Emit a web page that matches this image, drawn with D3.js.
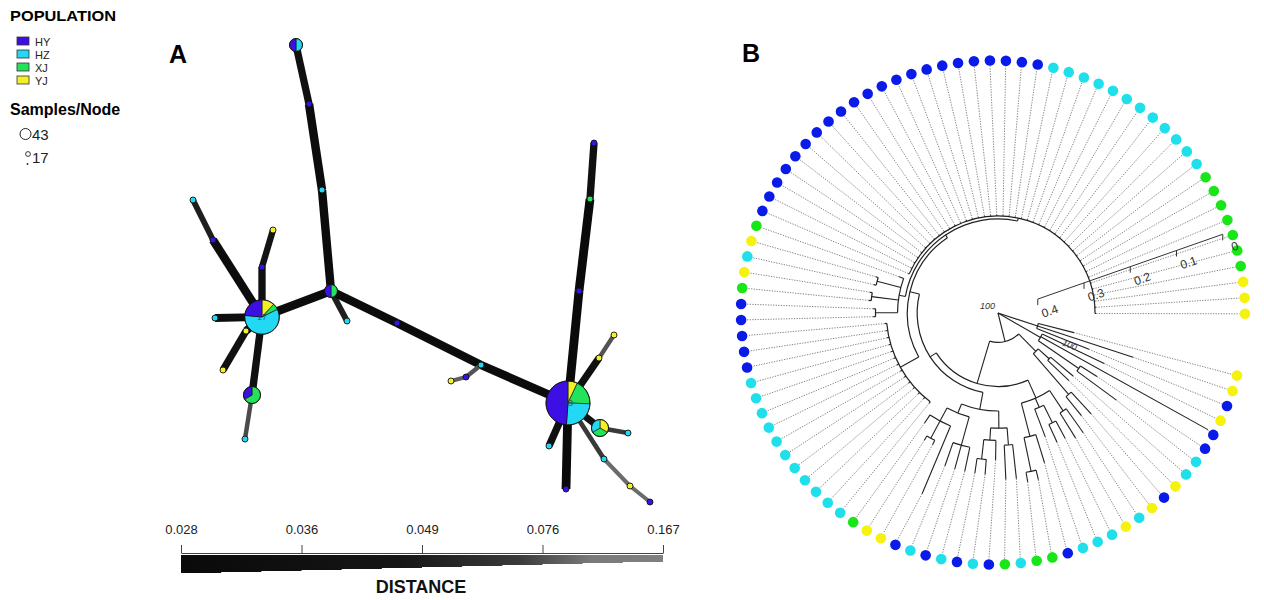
<!DOCTYPE html>
<html>
<head>
<meta charset="utf-8">
<script src="https://cdn.jsdelivr.net/npm/d3@7"></script>
<style>
  body { margin: 0; background: #fff; }
  svg { display: block; font-family: "Liberation Sans", Arial, sans-serif; }
</style>
</head>
<body>
<div id="chart-area"></div>
<script>
// Populations (shared by both panels)
var populations = ["HY", "HZ", "XJ", "YJ"];
var popColorsA = ["#3c10e4", "#22d8f2", "#22e35a", "#f3f028"];
var popColorsB = ["#0a1ae8", "#1fe0ea", "#18e618", "#f5f20e"];

// ---- Panel A: minimum spanning network ----
// node layout (network units) and samples per population [HY, HZ, XJ, YJ]
var nodeX = [136, 149, 162, 171, 187, 102, 33, 53, 113, 102, 55, 86, 63, 92, 85, 237,
             321, 306, 291, 408, 419, 430, 434, 439, 454, 389, 406, 440, 468, 444, 470, 490];
var nodeY = [25, 84, 170, 271, 301, 297, 180, 220, 210, 247, 298, 311, 350, 375, 419, 303,
             345, 357, 361, 383, 271, 179, 123, 338, 315, 426, 469, 408, 413, 439, 466, 482];
var nodeCounts = [
  [1,1,0,0], [1,0,0,0], [0,1,0,0], [1,0,1,0], [0,1,0,0], [4,10,1,2], [0,1,0,0], [1,0,0,0],
  [0,0,0,1], [1,0,0,0], [0,1,0,0], [0,0,0,1], [0,0,0,1], [1,0,2,0], [0,1,0,0], [1,0,0,0],
  [0,1,0,0], [1,0,0,0], [0,0,0,1], [21,11,8,3], [1,0,0,0], [0,0,1,0], [1,0,0,0], [0,0,0,1],
  [0,0,0,1], [0,1,0,0], [1,0,0,0], [0,1,1,1], [0,1,0,0], [0,1,0,0], [0,0,0,1], [1,0,0,0]
];
var edgeFrom = [0, 1, 2, 3, 3, 3, 15, 16, 16, 17, 5, 7, 5, 9, 5, 5, 11, 5, 13,
                19, 20, 21, 19, 23, 19, 19, 19, 27, 19, 29, 30];
var edgeTo   = [1, 2, 3, 4, 5, 15, 16, 19, 17, 18, 7, 6, 9, 8, 10, 11, 12, 13, 14,
                20, 21, 22, 23, 24, 25, 26, 27, 28, 29, 30, 31];
var edgeDist = [0.036, 0.03, 0.03, 0.05, 0.03, 0.03, 0.03, 0.03, 0.08, 0.09, 0.03, 0.05, 0.036, 0.045, 0.033, 0.033, 0.036, 0.036, 0.075,
                0.028, 0.028, 0.036, 0.036, 0.08, 0.036, 0.028, 0.04, 0.07, 0.07, 0.1, 0.1];
var distTicks = [0.028, 0.036, 0.049, 0.076, 0.167];
var distTickLabels = ["0.028", "0.036", "0.049", "0.076", "0.167"];
var sizeLegend = ["43", "17"];

// ---- Panel B: circular tree ----
// tip population codes (index into populations), clockwise from the gap on the right
var tipPop = [3,3,0,3,0,0,1,1,3,0,3,1,3,1,1,1,0,2,2,1,2,0,1,0,1,0,1,0,3,3,2,
              1,1,1,1,1,1,1,1,1,1,1,
              0,0,0,
              0,0,2,3,1,3,2,
              0,0,0,0,0,0,0,0,0,0,0,0,0,0,0,0,0,0,0,0,0,0,
              1,1,1,1,1,1,1,1,1,1,1,1,
              2,2,2,2,2,2,2,
              3,3,3];
// depth where each tip's solid branch ends
var tipEnd = [0.16,0.29,0.2,0.24,0.49,0.24,0.3,0.2,0.2,0.28,0.27,0.3,0.3,0.29,0.29,0.27,
              0.32,0.35,0.35,0.34,0.34,0.3,0.33,0.33,0.33,0.33,0.33,0.4,0.3,0.3,0.27,
              0.232,0.232,0.232,0.232,0.232,0.232,0.232,0.232,0.232,0.232,0.232,0.232,0.232,0.232,
              0.255,0.255,0.265,0.265,0.26,0.26,0.215,
              0.2,0.2,0.2,0.2,0.2,0.2,0.2,0.2,0.2,0.2,0.2,0.2,0.2,0.2,0.2,0.2,0.2,0.2,0.2,0.2,0.2,0.2,
              0.2,0.2,0.2,0.2,0.2,0.2,0.2,0.2,0.2,0.2,0.2,0.2,0.2,0.2,0.2,0.2,0.2,0.2,0.2,0.2,0.2,0.2];
// tree: [node depth, ...children]; a plain number is a tip index
var treeData =
  [0,
    [0.085, 0, 1, 2],
    [0.1, 3, 4, [0.2, 5, 6]],
    [0.06,
      [0.11, [0.14, 7, 8], [0.22, 9, 10]],
      [0.15,
        [0.19, [0.24, 11, 12], [0.21, [0.25, 13, 14], 15], [0.26, 16, [0.33, 17, 18]]],
        [0.165,
          [0.2, [0.235, [0.27, 19, 20], [0.26, 21, [0.3, 22, 23]]],
                [0.22, [0.28, 24, 25, 26], [0.25, 27, [0.29, 28, 29], 30]]],
          [0.185,
            [0.228, 31, 32, 33, 34, 35, 36, 37, 38, 39, 40, 41, 42, 43, 44],
            [0.192,
              [0.205, [0.25, 45, 46], [0.26, 47, 48], [0.255, 49, 50], 51],
              [0.198, 52, 53, 54, 55, 56, 57, 58, 59, 60, 61, 62, 63, 64, 65, 66, 67, 68, 69, 70, 71,
                      72, 73, 74, 75, 76, 77, 78, 79, 80, 81, 82, 83, 84, 85, 86, 87, 88, 89, 90, 91,
                      92, 93, 94, 95]]]]]]];
var treeMaxDepth = 0.486;
var scaleTicks = [0, 0.1, 0.2, 0.3, 0.4];
var bootLabels = ["100", "100"];

var svg = d3.select("#chart-area")
    .append("svg")
    .attr("width", 1264)
    .attr("height", 600);
svg.append("rect").attr("width", 1264).attr("height", 600).attr("fill", "#fff");

// ================= Panel A =================
var gA = svg.append("g");
var xA = d3.scaleLinear().domain([0, 500]).range([160, 660]);
var yA = d3.scaleLinear().domain([0, 500]).range([20, 520]);
var distT = d3.scaleLinear().domain(distTicks).range([0, 0.25, 0.5, 0.75, 1]).clamp(true);
var edgeWidth = d3.scaleLinear().domain([0, 1]).range([8.8, 3]);
var edgeGray = d3.scaleLinear().domain([0, 0.45, 0.7, 0.85, 1])
    .range(["#0a0a0a", "#151515", "#3a3a3a", "#7a7a7a", "#808080"]);
var nodeR = d3.scaleLog().domain([1, 43]).range([3, 22]);

gA.selectAll("line.edge")
    .data(edgeFrom.map(function(f, i) { return {f: f, t: edgeTo[i], d: edgeDist[i]}; }))
    .enter().append("line")
    .attr("class", "edge")
    .attr("x1", d => xA(nodeX[d.f])).attr("y1", d => yA(nodeY[d.f]))
    .attr("x2", d => xA(nodeX[d.t])).attr("y2", d => yA(nodeY[d.t]))
    .attr("stroke", d => edgeGray(distT(d.d)))
    .attr("stroke-width", d => edgeWidth(distT(d.d)));

// pie slices go clockwise from the top in the order YJ, XJ, HZ, HY
var pieOrder = [3, 2, 1, 0];
var pie = d3.pie().sort(null).value(d => d.v);
var nodes = nodeCounts.map(function(c, i) {
  return {i: i, total: d3.sum(c), slices: pieOrder.map(p => ({p: p, v: c[p]}))};
});
var nodeG = gA.selectAll("g.node").data(nodes).enter().append("g")
    .attr("class", "node")
    .attr("transform", d => "translate(" + xA(nodeX[d.i]) + "," + yA(nodeY[d.i]) + ")");
nodeG.each(function(d) {
  var r = nodeR(d.total);
  var arc = d3.arc().innerRadius(0).outerRadius(r);
  var g = d3.select(this);
  g.selectAll("path").data(pie(d.slices).filter(s => s.data.v > 0)).enter().append("path")
      .attr("d", arc)
      .attr("fill", s => popColorsA[s.data.p])
      .attr("stroke", "#111")
      .attr("stroke-width", d.total > 1 ? 0.6 : 0);
  g.append("circle").attr("r", r).attr("fill", "none").attr("stroke", "#111").attr("stroke-width", 0.9);
  if (d.total > 10) {
    g.append("text").attr("text-anchor", "middle").attr("dy", "0.35em")
        .attr("font-size", 9).attr("fill", "#2a3570").attr("opacity", 0.7)
        .text(d.total);
  }
});

// panel letter
svg.append("text").attr("x", 169).attr("y", 63).attr("font-size", 25).attr("font-weight", "bold").text("A");

// population legend
svg.append("text").attr("x", 10).attr("y", 21).attr("font-size", 14).attr("font-weight", "bold")
    .attr("textLength", 106).attr("lengthAdjust", "spacingAndGlyphs").text("POPULATION");
var legY = d3.scaleLinear().domain([0, 3]).range([37, 76]);
populations.forEach(function(p, i) {
  svg.append("rect").attr("x", 17).attr("y", legY(i)).attr("width", 12).attr("height", 8)
      .attr("fill", popColorsA[i]).attr("stroke", "#333").attr("stroke-width", 0.8);
  svg.append("text").attr("x", 35).attr("y", legY(i) + 8.5)
      .attr("font-size", 11).attr("fill", "#222").text(p);
});
svg.append("text").attr("x", 10).attr("y", 115).attr("font-size", 16).attr("font-weight", "bold")
    .text("Samples/Node");
svg.append("circle").attr("cx", 25.5).attr("cy", 134).attr("r", 5.5)
    .attr("fill", "none").attr("stroke", "#222").attr("stroke-width", 1);
svg.append("text").attr("x", 32).attr("y", 139.5).attr("font-size", 15).attr("fill", "#222").text(sizeLegend[0]);
svg.append("circle").attr("cx", 28).attr("cy", 154).attr("r", 2.4)
    .attr("fill", "none").attr("stroke", "#222").attr("stroke-width", 0.9);
svg.append("circle").attr("cx", 27.5).attr("cy", 164).attr("r", 0.9).attr("fill", "#222");
svg.append("text").attr("x", 32).attr("y", 163).attr("font-size", 15).attr("fill", "#222").text(sizeLegend[1]);

// distance legend: stepped wedge with gradient
var barX = d3.scalePoint().domain(distTickLabels).range([181, 663]);
var defs = svg.append("defs");
var grad = defs.append("linearGradient").attr("id", "dist-gradient");
d3.range(0, 1.0001, 0.05).forEach(function(t) {
  grad.append("stop").attr("offset", (t * 100) + "%").attr("stop-color", edgeGray(t));
});
var steps = 12, stepW = (663 - 181) / steps, pts = [[181, 555], [663, 555]];
for (var s = steps - 1; s >= 0; s--) {
  var yb = 573 - s;
  pts.push([181 + (s + 1) * stepW, yb]);
  pts.push([181 + s * stepW, yb]);
}
svg.append("path").attr("d", d3.line()(pts) + "Z").attr("fill", "url(#dist-gradient)");
var distAxis = svg.append("g").attr("transform", "translate(0,553)")
    .call(d3.axisTop(barX).tickSize(8).tickSizeOuter(0).tickPadding(11));
distAxis.selectAll("path,line").attr("stroke", "#444");
distAxis.selectAll("text").attr("font-size", 13).attr("fill", "#222")
    .attr("font-family", "Liberation Sans, Arial, sans-serif");
svg.append("text").attr("x", 421).attr("y", 593).attr("text-anchor", "middle")
    .attr("font-size", 18).attr("font-weight", "bold").attr("fill", "#111").text("DISTANCE");

// ================= Panel B =================
var gB = svg.append("g");
var cx = 998, cy = 313;             // tree centre
var dotCx = 993, dotCy = 312.5, tipR = 252;  // ring of tip dots
var angleB = d3.scaleLinear().domain([0, tipPop.length - 1]).range([14.5, 360.3]);
var rB = d3.scaleLinear().domain([0, 0.1]).range([0, 49]);
function polar(a, r) {
  var rad = a * Math.PI / 180;
  return [cx + r * Math.cos(rad), cy + r * Math.sin(rad)];
}
function polarDot(a, r) {
  var rad = a * Math.PI / 180;
  return [dotCx + r * Math.cos(rad), dotCy + r * Math.sin(rad)];
}

var root = d3.hierarchy(treeData, d => Array.isArray(d) ? d.slice(1) : null);
root.eachAfter(function(n) {
  if (!n.children) { n.ang = angleB(n.data); n.h = tipEnd[n.data]; }
  else {
    n.ang = (n.children[0].ang + n.children[n.children.length - 1].ang) / 2;
    n.h = n.data[0];
  }
});

// dotted leaders to aligned tips
gB.selectAll("line.lead").data(root.leaves()).enter().append("line")
    .attr("class", "lead")
    .attr("x1", d => polar(d.ang, rB(d.h))[0]).attr("y1", d => polar(d.ang, rB(d.h))[1])
    .attr("x2", d => polarDot(d.ang, tipR - 5.5)[0]).attr("y2", d => polarDot(d.ang, tipR - 5.5)[1])
    .attr("stroke", "#666").attr("stroke-width", 0.8).attr("stroke-dasharray", "1.3,1.3");

// arcs joining children
gB.selectAll("path.arc").data(root.descendants().filter(n => n.children && n.h > 0))
    .enter().append("path")
    .attr("class", "arc")
    .attr("d", function(n) {
      var p = d3.path();
      p.arc(cx, cy, rB(n.h), n.children[0].ang * Math.PI / 180,
            n.children[n.children.length - 1].ang * Math.PI / 180);
      return p.toString();
    })
    .attr("fill", "none").attr("stroke", "#222").attr("stroke-width", 1.2);

// radial branches
gB.selectAll("line.branch").data(root.links()).enter().append("line")
    .attr("class", "branch")
    .attr("x1", d => polar(d.target.ang, rB(d.source.h))[0])
    .attr("y1", d => polar(d.target.ang, rB(d.source.h))[1])
    .attr("x2", d => polar(d.target.ang, rB(d.target.h))[0])
    .attr("y2", d => polar(d.target.ang, rB(d.target.h))[1])
    .attr("stroke", "#222").attr("stroke-width", 1.1);

// tip dots
gB.selectAll("circle.tip").data(root.leaves()).enter().append("circle")
    .attr("class", "tip")
    .attr("cx", d => polarDot(d.ang, tipR)[0]).attr("cy", d => polarDot(d.ang, tipR)[1])
    .attr("r", 5.3)
    .attr("fill", d => popColorsB[tipPop[d.data]]);

// radial distance scale bar
var barAng = -19.3;
var scaleR = d3.scaleLinear().domain([0, 0.4]).range([rB(treeMaxDepth), rB(treeMaxDepth - 0.4)]);
var sb = gB.append("g");
var p0 = polar(barAng, scaleR(0)), p1 = polar(barAng, scaleR(0.4));
sb.append("line").attr("x1", p0[0]).attr("y1", p0[1]).attr("x2", p1[0]).attr("y2", p1[1])
    .attr("stroke", "#333").attr("stroke-width", 1);
scaleTicks.forEach(function(v) {
  var p = polar(barAng, scaleR(v));
  sb.append("line").attr("x1", p[0]).attr("y1", p[1]).attr("x2", p[0]).attr("y2", p[1] + 6)
      .attr("stroke", "#333").attr("stroke-width", 1);
  sb.append("text")
      .attr("transform", "translate(" + (p[0] + 12) + "," + (p[1] + 12) + ") rotate(" + barAng + ")")
      .attr("text-anchor", "middle").attr("dy", "0.35em")
      .attr("font-size", 12).attr("fill", "#333").text(v);
});

// bootstrap labels
gB.append("text").attr("x", cx - 3).attr("y", cy - 4).attr("text-anchor", "end")
    .attr("font-size", 9).attr("font-style", "italic").attr("fill", "#333").text(bootLabels[0]);
var rbNode = root.children[1];
var bp = polar(rbNode.ang - 6, rB(rbNode.h + 0.06));
gB.append("text").attr("transform", "translate(" + bp[0] + "," + bp[1] + ") rotate(22)")
    .attr("text-anchor", "middle").attr("dy", "0.35em")
    .attr("font-size", 9).attr("font-style", "italic").attr("fill", "#333").text(bootLabels[1]);

svg.append("text").attr("x", 742).attr("y", 62).attr("font-size", 25).attr("font-weight", "bold").text("B");
</script>
</body>
</html>
